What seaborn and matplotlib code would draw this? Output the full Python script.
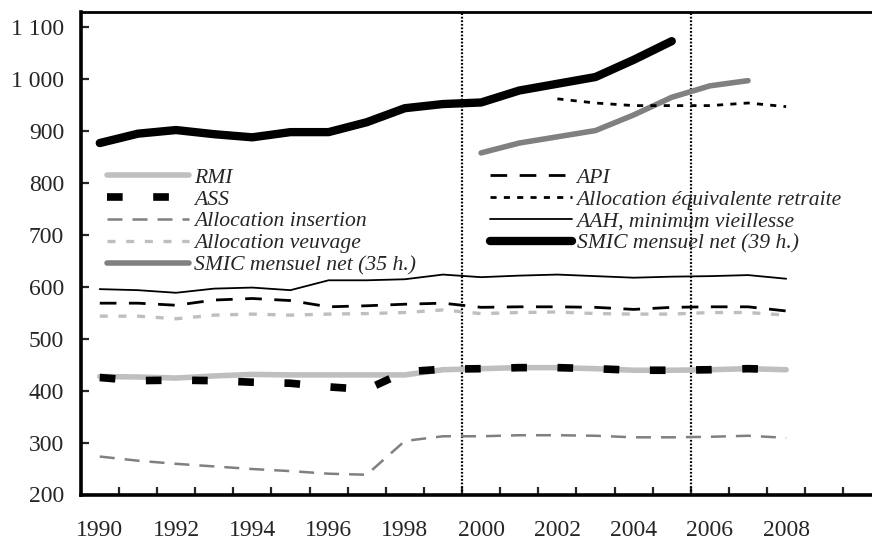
import numpy as np
import pandas as pd
import matplotlib
matplotlib.use("Agg")
import matplotlib.pyplot as plt
import seaborn as sns
from matplotlib.ticker import FixedLocator, FuncFormatter
from matplotlib.lines import Line2D

# Monthly amounts (euros), 1990-2008
years = list(range(1990, 2009))
rmi = [427, 426, 424, 428, 431, 430, 430, 430, 430, 440, 442, 444, 444, 442, 439, 439, 440, 442, 440]
ass = [425, 419, 420, 419, 416, 414, 407, 402, 436, 441, 442, 444, 444, 442, 439, 439, 440, 442, 440]
insertion = [273, 265, 259, 254, 249, 245, 240, 238, 303, 312, 312, 314, 314, 313, 310, 310, 311, 313, 309]
veuvage = [543, 543, 538, 545, 547, 545, 547, 548, 550, 555, 548, 550, 551, 548, 547, 547, 550, 550, 545]
api = [568, 568, 564, 574, 577, 573, 561, 563, 566, 568, 560, 561, 561, 560, 556, 560, 561, 561, 553]
aah = [595, 593, 588, 596, 598, 593, 612, 612, 614, 623, 618, 621, 623, 620, 617, 619, 620, 622, 615]
aer_years = list(range(2002, 2009))
aer = [961, 953, 948, 948, 948, 953, 946]
smic35_years = list(range(2000, 2008))
smic35 = [857, 876, 888, 900, 930, 964, 986, 996]
smic39_years = list(range(1990, 2006))
smic39 = [876, 894, 901, 893, 887, 897, 897, 916, 943, 951, 954, 977, 990, 1003, 1036, 1072]

first_year = 1990
n_categories = 21            # 1990 .. 2010 on the category axis
label_years = list(range(1990, 2009, 2))
y_ticks = list(range(200, 1101, 100))
period_breaks = [1999.5, 2005.5]   # boundaries between categories

sns.set_theme(style="white")
plt.rcParams["font.family"] = ["Liberation Serif", "DejaVu Serif"]

fig = plt.figure(figsize=(8.72, 5.39), dpi=100)
ax = fig.add_axes([80.7 / 872, (539 - 494.5) / 539, (881.5 - 80.7) / 872, (494.5 - 11.5) / 539])

def frame(yrs, vals, name):
    return pd.DataFrame({"idx": [y - first_year for y in yrs], "val": vals, "serie": name})

series = [
    (frame(years, rmi, "RMI"), dict(color="#bfbfbf", lw=4.0, ls="-")),
    (frame(years, ass, "ASS"), dict(color="black", lw=5.5, ls=(0, (2.05, 4.0)))),
    (frame(years, insertion, "Allocation insertion"), dict(color="#808080", lw=1.8, ls=(0, (6, 4)))),
    (frame(years, veuvage, "Allocation veuvage"), dict(color="#bfbfbf", lw=2.4, ls=(0, (2.4, 3.2)))),
    (frame(smic35_years, smic35, "SMIC mensuel net (35 h.)"), dict(color="#808080", lw=4.0, ls="-")),
    (frame(years, api, "API"), dict(color="black", lw=2.0, ls=(0, (6, 4.5)))),
    (frame(aer_years, aer, "Allocation équivalente retraite"), dict(color="black", lw=2.0, ls=(0, (2.2, 2.6)))),
    (frame(years, aah, "AAH, minimum vieillesse"), dict(color="black", lw=1.3, ls="-")),
    (frame(smic39_years, smic39, "SMIC mensuel net (39 h.)"), dict(color="black", lw=6.0, ls="-")),
]

handles = []
for df, st in series:
    sns.lineplot(data=df, x="idx", y="val", ax=ax, color=st["color"], linewidth=st["lw"],
                 linestyle=st["ls"], legend=False, solid_capstyle="round", dash_capstyle="butt")
    handles.append(Line2D([0], [0], color=st["color"], lw=st["lw"], ls=st["ls"],
                          solid_capstyle="round", label=df["serie"].iloc[0]))

for b in period_breaks:
    ax.axvline(b - first_year, color="black", lw=1.6, ls=(0, (0.8, 0.8)), zorder=1)

ax.set_xlim(-0.5, n_categories - 0.5)
ax.set_ylim(200, 1129)
ax.set_xlabel("")
ax.set_ylabel("")

ax.xaxis.set_major_locator(FixedLocator([y - first_year for y in label_years]))
ax.set_xticklabels([str(y) for y in label_years])
ax.xaxis.set_minor_locator(FixedLocator([k + 0.5 for k in range(n_categories - 1)]))
ax.tick_params(axis="x", which="major", length=0, pad=18, labelsize=17)
ax.tick_params(axis="x", which="minor", direction="in", length=6, width=1.6, bottom=True)

ax.yaxis.set_major_locator(FixedLocator(y_ticks))
ax.yaxis.set_major_formatter(FuncFormatter(lambda v, p: f"{int(v):,}".replace(",", " ")))
ax.tick_params(axis="y", which="major", direction="in", length=6, width=1.6, left=True, pad=12, labelsize=17)

for side in ["left", "bottom"]:
    ax.spines[side].set_linewidth(2.6)
    ax.spines[side].set_color("black")
ax.spines["top"].set_linewidth(2.0)
ax.spines["top"].set_color("black")
ax.spines["right"].set_visible(False)

leg_kw = dict(frameon=False, prop={"family": "Liberation Serif", "style": "italic", "size": 15.6},
              handlelength=3.8, handletextpad=0.2, labelspacing=0.08, borderaxespad=0, borderpad=0)
leg1 = ax.legend(handles=handles[:5], loc="upper left", bbox_to_anchor=(0.033, 0.677), **leg_kw)
ax.add_artist(leg1)
ax.legend(handles=handles[5:], loc="upper left", bbox_to_anchor=(0.511, 0.677), **leg_kw)

fig.savefig("out.png", dpi=100)
